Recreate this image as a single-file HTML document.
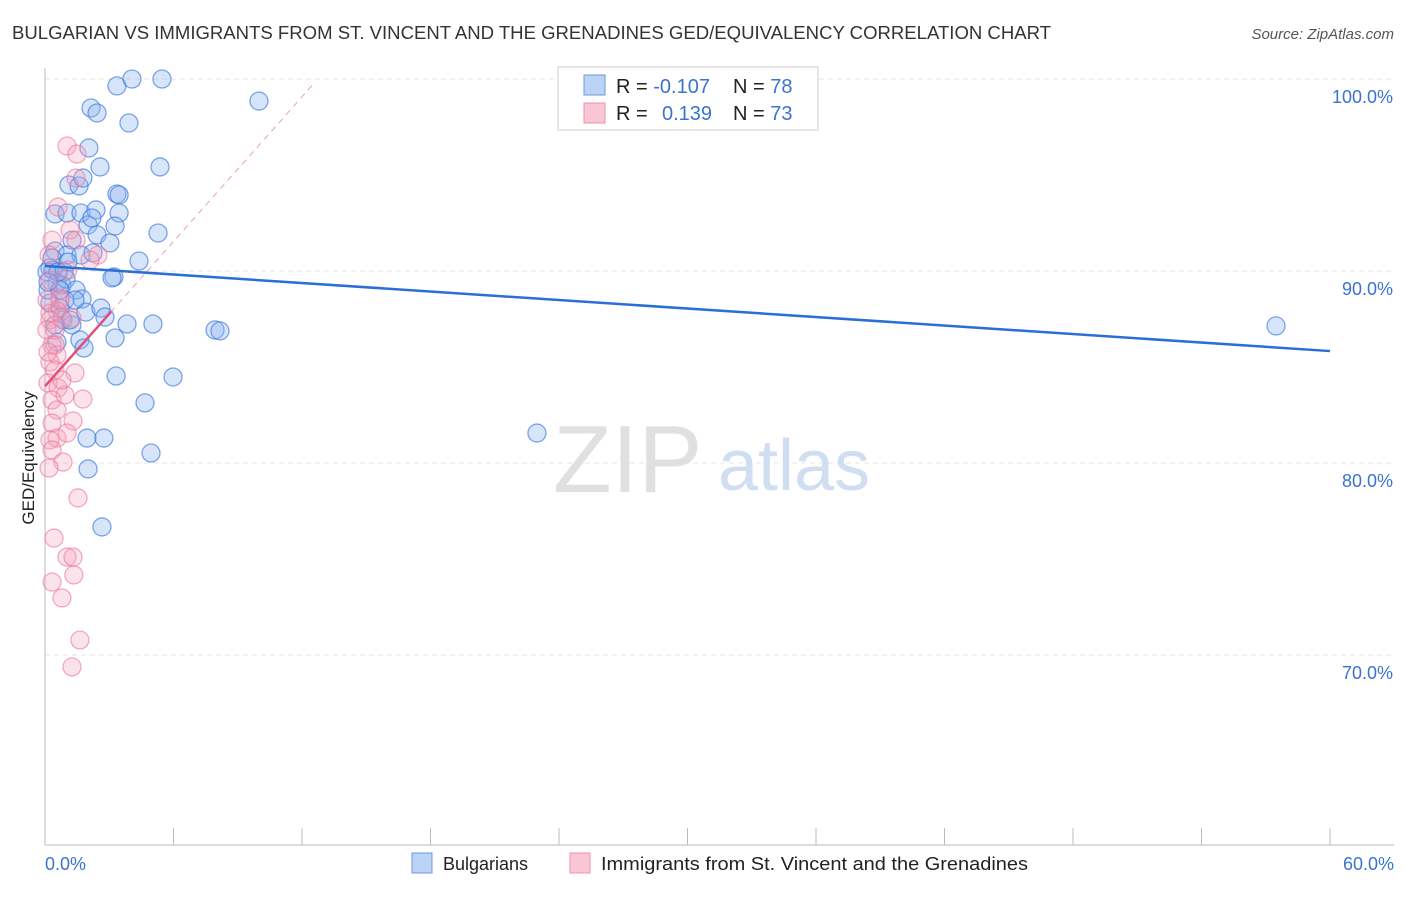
<!DOCTYPE html>
<html><head><meta charset="utf-8"><style>
body{margin:0;background:#fff;font-family:"Liberation Sans",sans-serif;}
svg text{font-family:"Liberation Sans",sans-serif;}
</style></head><body>
<svg width="1406" height="892">
<text x="12" y="39" font-size="18" fill="#333" textLength="1039" lengthAdjust="spacingAndGlyphs">BULGARIAN VS IMMIGRANTS FROM ST. VINCENT AND THE GRENADINES GED/EQUIVALENCY CORRELATION CHART</text>
<text x="1394" y="39" font-size="15" fill="#555" font-style="italic" text-anchor="end">Source: ZipAtlas.com</text>
<g id="grid"></g>
<line x1="45" y1="68" x2="45" y2="845" stroke="#bbb"/>
<line x1="45" y1="845" x2="1394" y2="845" stroke="#bbb"/>
<text x="553" y="492" font-size="96" fill="#e0e0e0" font-family="Liberation Serif">ZIP</text>
<text x="718" y="490" font-size="72" fill="#d0def2">atlas</text>
<text transform="translate(34,458) rotate(-90)" font-size="17" fill="#222" text-anchor="middle">GED/Equivalency</text>
<text x="45" y="870" font-size="18" fill="#3a74d0">0.0%</text>
<text x="1394" y="870" font-size="18" fill="#3a74d0" text-anchor="end">60.0%</text>
<g id="pts"></g>
<g id="lines"></g>
<rect x="558" y="67" width="260" height="63" fill="#fff" stroke="#ccc"/>
<rect x="584" y="75" width="21" height="20" fill="#bcd3f5" stroke="#6a9ae0"/>
<rect x="584" y="103" width="21" height="20" fill="#f9c6d4" stroke="#ec90aa"/>
<text x="616" y="93" font-size="20" fill="#222">R = <tspan fill="#3a74d0">-0.107</tspan><tspan x="733">N = </tspan><tspan fill="#3a74d0">78</tspan></text>
<text x="616" y="120" font-size="20" fill="#222">R = <tspan x="662" fill="#3a74d0">0.139</tspan><tspan x="733">N = </tspan><tspan fill="#3a74d0">73</tspan></text>
<rect x="412" y="853" width="20" height="20" fill="#bcd3f5" stroke="#6a9ae0"/>
<text x="443" y="870" font-size="18" fill="#222">Bulgarians</text>
<rect x="570" y="853" width="20" height="20" fill="#f9c6d4" stroke="#ec90aa"/>
<text x="601" y="870" font-size="18" fill="#222" textLength="427" lengthAdjust="spacingAndGlyphs">Immigrants from St. Vincent and the Grenadines</text>
</svg>
<script>
const yTicks=[100,90,80,70];
const yTickLabels=["100.0%","90.0%","80.0%","70.0%"];
const xTicks=[0,6,12,18,24,30,36,42,48,54,60];
const bluePx=[[117,86],[132,79],[162,79],[259,101],[91,108],[97,113],[129,123],[89,148],[160,167],[100,167],[69,185],[79,186],[83,178],[117,194],[119,195],[55,214],[67,213],[81,213],[96,210],[119,213],[115,226],[88,225],[158,233],[72,240],[97,235],[110,243],[55,251],[67,255],[81,255],[93,253],[139,261],[50,268],[53,270],[64,272],[47,272],[57,283],[62,285],[66,279],[76,290],[114,277],[112,278],[50,303],[65,300],[82,299],[60,308],[86,312],[101,308],[105,317],[63,320],[72,325],[127,324],[153,324],[215,330],[220,331],[80,340],[84,348],[115,338],[116,376],[173,377],[145,403],[87,438],[104,438],[151,453],[88,469],[102,527],[537,433],[1276,326],[48,290],[55,325],[70,320],[57,342],[52,258],[60,290],[75,300],[68,262],[92,218],[58,272],[48,282]];
const pinkPx=[[67,146],[77,154],[76,178],[58,207],[70,230],[76,240],[98,255],[52,240],[49,255],[50,280],[60,298],[57,311],[50,313],[62,318],[72,318],[52,345],[57,355],[50,362],[75,373],[55,370],[48,383],[58,388],[52,400],[83,399],[57,410],[52,423],[73,421],[57,438],[67,433],[50,440],[52,450],[63,462],[49,468],[78,498],[54,538],[67,557],[73,557],[74,575],[52,582],[62,598],[80,640],[72,667],[50,320],[47,330],[55,330],[60,300],[68,270],[90,260],[47,300],[65,395],[55,345],[48,352],[62,380]];
const blueX=bluePx.map(p=>+((p[0]-45)/21.417).toFixed(2));
const blueY=bluePx.map(p=>+(100-(p[1]-79)/19.2).toFixed(2));
const pinkX=pinkPx.map(p=>+((p[0]-45)/21.417).toFixed(2));
const pinkY=pinkPx.map(p=>+(100-(p[1]-79)/19.2).toFixed(2));
const blueTrend=[90.26,85.83];
const pinkTrend=[84.0,99.7];
const pinkTrendEnd=12.5, pinkSolidEnd=3.1;
const X=v=>45+v*1285/60, Y=v=>79+(100-v)*19.2;
const NS="http://www.w3.org/2000/svg";
function mk(t,a,p){const e=document.createElementNS(NS,t);for(const k in a)e.setAttribute(k,a[k]);p.appendChild(e);return e;}
const g=document.getElementById('grid');
yTicks.forEach((t,i)=>{
 const l=mk('line',{x1:45,x2:1394,y1:Y(t),y2:Y(t),stroke:'#e4e4e4','stroke-dasharray':'5,4'},g);
 
 
 const tx=mk('text',{x:1393,y:Y(t)+24,'font-size':18,fill:'#3a74d0','text-anchor':'end'},g);
 tx.textContent=yTickLabels[i];
 
 
});
xTicks.forEach(t=>{
 const l=mk('line',{x1:X(t),x2:X(t),y1:828,y2:845,stroke:'#bbb'},g);
 
 
});
const pg=document.getElementById('pts');
blueX.forEach((x,i)=>{
 const c=mk('circle',{cx:X(x),cy:Y(blueY[i]),r:9,fill:'rgba(140,180,240,0.35)',stroke:'rgba(60,120,220,0.65)','stroke-width':1.3},pg);
 
 
});
pinkX.forEach((x,i)=>{
 const c=mk('circle',{cx:X(x),cy:Y(pinkY[i]),r:9,fill:'rgba(245,160,185,0.3)',stroke:'rgba(235,120,155,0.6)','stroke-width':1.3},pg);
 
 
});
const lg=document.getElementById('lines');
const py=x=>pinkTrend[0]+(pinkTrend[1]-pinkTrend[0])*x/pinkTrendEnd;
const pd=mk('line',{x1:X(0),y1:Y(py(0)),x2:X(pinkTrendEnd),y2:Y(py(pinkTrendEnd)),stroke:'#eaa0b8','stroke-width':1,'stroke-dasharray':'6,5'},lg);


const ps=mk('line',{x1:X(0),y1:Y(py(0)),x2:X(pinkSolidEnd),y2:Y(py(pinkSolidEnd)),stroke:'#e0507a','stroke-width':2.5},lg);


const bl=mk('line',{x1:X(0),y1:Y(blueTrend[0]),x2:X(60),y2:Y(blueTrend[1]),stroke:'#2a6fd6','stroke-width':2.5},lg);


</script>
</body></html>
